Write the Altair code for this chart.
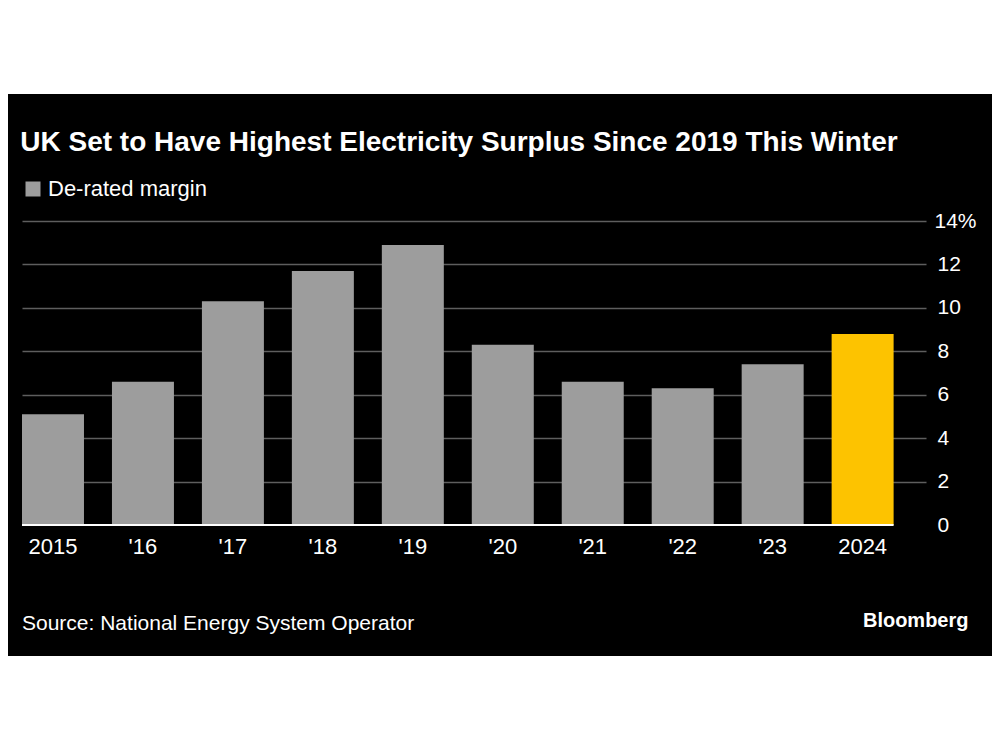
import altair as alt
import pandas as pd

years = ["2015", "'16", "'17", "'18", "'19", "'20", "'21", "'22", "'23", "2024"]
margins = [5.1, 6.6, 10.3, 11.7, 12.9, 8.3, 6.6, 6.3, 7.4, 8.8]
highlight = [False, False, False, False, False, False, False, False, False, True]
series_name = "De-rated margin"
y_ticks = [0, 2, 4, 6, 8, 10, 12, 14]
title_text = "UK Set to Have Highest Electricity Surplus Since 2019 This Winter"
source_text = "Source: National Energy System Operator"
brand_text = "Bloomberg"

FONT = "Liberation Sans"
GREY = "#9d9d9d"
YELLOW = "#fdc300"

df = pd.DataFrame({"year": years, "margin": margins, "highlight": highlight,
                   "series": [series_name] * len(years)})

W, H = 904, 304
PAD = {"left": 14, "top": 213, "right": 66, "bottom": 131}

xscale = alt.Scale(domain=years, paddingInner=0.311, paddingOuter=0.18, align=0, round=False)
yscale = alt.Scale(domain=[0, 14], nice=False, zero=True)

bars = alt.Chart(df).mark_bar().encode(
    x=alt.X("year:N", scale=xscale, sort=years,
            axis=alt.Axis(title=None, labelAngle=0, domain=False, ticks=False,
                          labelPadding=11, labelFontSize=22, labelFont=FONT,
                          labelColor="#ffffff", grid=False)),
    y=alt.Y("margin:Q", scale=yscale,
            axis=alt.Axis(title=None, orient="right", values=y_ticks, grid=True,
                          gridColor="#5e5e5e", gridWidth=1.5,
                          gridOpacity={"condition": {"test": "datum.value === 0", "value": 0}, "value": 1},
                          domain=False, ticks=False,
                          labelPadding={"condition": {"test": "datum.value === 14", "value": 8}, "value": 11},
                          labelFontSize=21, labelFont=FONT, labelColor="#ffffff",
                          labelAlign="left", labelBaseline="middle",
                          labelExpr="datum.value == 14 ? '14%' : datum.label")),
    color=alt.condition(
        "datum.highlight",
        alt.value(YELLOW),
        alt.Color("series:N", scale=alt.Scale(domain=[series_name], range=[GREY]),
                  legend=alt.Legend(title=None, orient="none", legendX=0, legendY=-43,
                                    symbolType="square", symbolSize=225,
                                    symbolStrokeWidth=0, symbolOpacity=1,
                                    labelFontSize=22, labelFont=FONT,
                                    labelColor="#ffffff", labelOffset=4, padding=0)),
    ),
)

base_df = pd.DataFrame({"year": [years[0]], "year_end": [years[-1]]})
baseline = alt.Chart(base_df).mark_rule(color="#ffffff", strokeWidth=2).encode(
    x=alt.X("year:N", bandPosition=0),
    x2=alt.X2("year_end", bandPosition=1),
    y=alt.datum(0),
)

title_df = pd.DataFrame({"text": [title_text]})
title = alt.Chart(title_df).mark_text(
    align="left", baseline="alphabetic", font=FONT, fontSize=28, fontWeight="bold",
    color="#ffffff"
).encode(text="text:N", x=alt.value(-1.7), y=alt.value(-70))

src_df = pd.DataFrame({"text": [source_text]})
source = alt.Chart(src_df).mark_text(
    align="left", baseline="alphabetic", font=FONT, fontSize=21, color="#ffffff"
).encode(text="text:N", x=alt.value(0), y=alt.value(409))

brand_df = pd.DataFrame({"text": [brand_text]})
brand = alt.Chart(brand_df).mark_text(
    align="right", baseline="alphabetic", font=FONT, fontSize=20, fontWeight="bold",
    color="#ffffff"
).encode(text="text:N", x=alt.value(946.5), y=alt.value(405.7))

blank_df = pd.DataFrame({"a": [0]})
top_band = alt.Chart(blank_df).mark_rect(color="#ffffff").encode(
    x=alt.value(-PAD["left"] - 2), x2=alt.value(W + PAD["right"] + 2),
    y=alt.value(-PAD["top"] - 2), y2=alt.value(-PAD["top"] + 86),
)

chart = alt.layer(bars, baseline, title, source, brand, top_band).properties(
    width=W, height=H,
    padding=PAD,
    autosize=alt.AutoSizeParams(type="none"),
    background="#000000",
).configure_view(stroke=None)

chart.save("out.html", embed_options={"renderer": "svg", "actions": False})
